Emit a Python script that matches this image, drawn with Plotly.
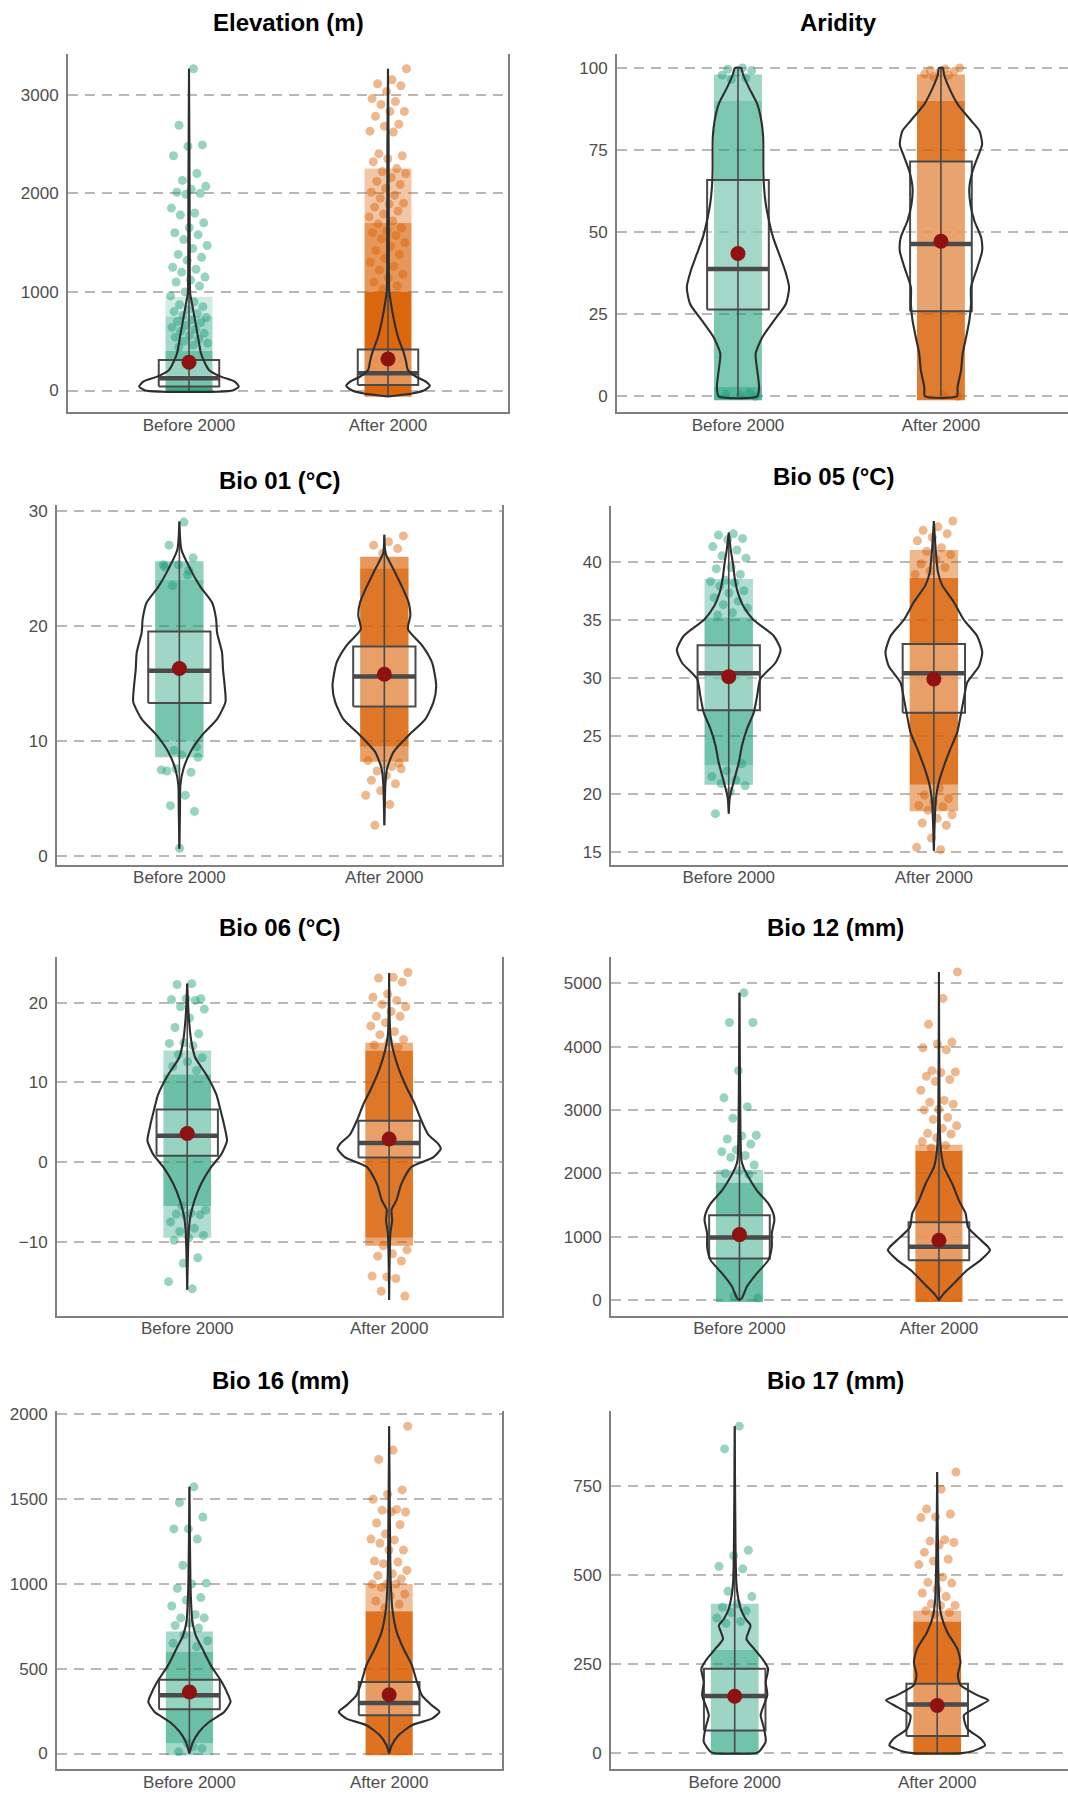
import plotly.graph_objects as go

# ---------------- data ----------------
CATEGORIES = ["Before 2000", "After 2000"]
TITLES = ["Elevation (m)", "Aridity", "Bio 01 (°C)", "Bio 05 (°C)",
          "Bio 06 (°C)", "Bio 12 (mm)", "Bio 16 (mm)", "Bio 17 (mm)"]
Y_TICKS = [[0, 1000, 2000, 3000], [0, 25, 50, 75, 100], [0, 10, 20, 30],
           [15, 20, 25, 30, 35, 40], [-10, 0, 10, 20],
           [0, 1000, 2000, 3000, 4000, 5000], [0, 500, 1000, 1500, 2000],
           [0, 250, 500, 750]]

# box stats: [min, q1, median, q3, max]; mean; violin profile (value, half-width);
# dense point cloud: band edges + density per band; sparse individual points
ELEV_B_BOX = [-12, 40, 125, 310, 3263]; ELEV_B_MEAN = 286
ELEV_A_BOX = [-60, 57, 175, 417, 3263]; ELEV_A_MEAN = 320
ELEV_B_VY = [-12, 0, 40, 90, 141, 209, 300, 377, 545, 714, 882, 983, 1200, 2000, 3263]
ELEV_B_VW = [0.14, 0.22, 0.25, 0.23, 0.16, 0.10, 0.075, 0.06, 0.045, 0.03, 0.015, 0.006, 0.004, 0.003, 0]
ELEV_A_VY = [-60, -30, 0, 47, 90, 141, 209, 300, 377, 545, 714, 882, 1017, 1500, 2500, 3263]
ELEV_A_VW = [0.0, 0.12, 0.18, 0.21, 0.19, 0.14, 0.10, 0.09, 0.08, 0.05, 0.03, 0.015, 0.006, 0.004, 0.003, 0]
ELEV_B_EDGES = [-25, 150, 400, 750, 950]; ELEV_B_DENS = [0.85, 0.65, 0.4, 0.2]
ELEV_A_EDGES = [-60, 1000, 1700, 2250]; ELEV_A_DENS = [0.95, 0.65, 0.35]
ELEV_B_PTS = [3263, 2690, 2490, 2475, 2380, 2200, 2130, 2070, 2040, 2010, 2000, 1990, 1850, 1800,
              1780, 1700, 1650, 1600, 1580, 1530, 1470, 1440, 1380, 1350, 1320, 1250, 1230, 1200,
              1150, 1120, 1100, 1060, 1000, 960, 900, 870, 850, 820, 800, 780, 760, 740, 720, 700,
              690, 660, 640, 620, 600, 580, 560, 540, 520, 500, 480, 460, 440]
ELEV_A_PTS = [3263, 3150, 3110, 3090, 3030, 2960, 2930, 2900, 2830, 2830, 2780, 2700, 2680, 2630,
              2620, 2400, 2380, 2350, 2320, 2250, 2220, 2200, 2160, 2120, 2090, 2050, 2010, 1980,
              1950, 1900, 1890, 1860, 1820, 1790, 1760, 1720, 1690, 1650, 1620, 1600, 1570, 1540,
              1500, 1460, 1420, 1380, 1340, 1300, 1260, 1220, 1180, 1140, 1100, 1060, 1030]

ARID_B_BOX = [0, 26.4, 38.8, 65.9, 100]; ARID_B_MEAN = 43.5
ARID_A_BOX = [0, 25.9, 46.4, 71.5, 100]; ARID_A_MEAN = 47.2
ARID_B_VY = [0, 2.8, 7.9, 13, 18, 23.1, 28.1, 33.2, 38.3, 43.3, 48.4, 53.4, 58.5, 64, 69, 74, 79, 84, 89, 94, 98, 100]
ARID_B_VW = [0.095, 0.104, 0.095, 0.087, 0.12, 0.178, 0.236, 0.252, 0.232, 0.203, 0.173, 0.153, 0.137,
             0.128, 0.125, 0.125, 0.124, 0.115, 0.095, 0.054, 0.025, 0.015]
ARID_A_VY = [0, 2.8, 7.9, 13, 18, 23.1, 28.1, 33.2, 39.3, 44.3, 48.4, 53.4, 58.5, 63.6, 68.6, 72.7,
             76.7, 80.8, 84, 89, 94, 98, 100]
ARID_A_VW = [0.079, 0.082, 0.099, 0.107, 0.124, 0.14, 0.148, 0.148, 0.18, 0.203, 0.198, 0.165, 0.145,
             0.14, 0.156, 0.18, 0.203, 0.19, 0.148, 0.082, 0.04, 0.015, 0.01]
ARID_B_EDGES = [-1.2, 3, 90, 98]; ARID_B_DENS = [0.75, 0.58, 0.42]
ARID_A_EDGES = [-1.2, 90, 98]; ARID_A_DENS = [0.82, 0.55]
ARID_B_PTS = [100, 99.6, 99.2, 98.5, 97.8, 97, 96.5, 0, 0.3, 0.6, 1.0]
ARID_A_PTS = [100, 99.7, 99.3, 99, 98.6, 98.2, 97.8, 97.3, 0, 0.4]

BIO01_B_BOX = [0.66, 13.3, 16.1, 19.5, 29.05]; BIO01_B_MEAN = 16.3
BIO01_A_BOX = [2.7, 13.0, 15.6, 18.2, 27.9]; BIO01_A_MEAN = 15.8
BIO01_B_VY = [0.66, 4, 6.2, 7.6, 9.06, 10.5, 11.9, 13.4, 14.8, 16.2, 17.7, 19.4, 20.6, 22, 23.4, 24.9, 26.6, 29.05]
BIO01_B_VW = [0, 0.003, 0.005, 0.02, 0.054, 0.11, 0.184, 0.225, 0.221, 0.213, 0.208, 0.184, 0.179, 0.16,
              0.102, 0.054, 0.01, 0]
BIO01_A_VY = [2.7, 5, 6.2, 7.6, 9.06, 10.5, 11.9, 13.4, 14.8, 16.8, 18.3, 19.7, 20.9, 22, 23.4, 24.9, 26.3, 27.9]
BIO01_A_VW = [0, 0.003, 0.005, 0.013, 0.045, 0.119, 0.2, 0.24, 0.253, 0.233, 0.184, 0.115, 0.127, 0.119,
              0.086, 0.045, 0.006, 0]
BIO01_B_EDGES = [8.6, 10, 24, 25.6]; BIO01_B_DENS = [0.45, 0.6, 0.48]
BIO01_A_EDGES = [8.2, 9.5, 25.0, 26.0]; BIO01_A_DENS = [0.6, 0.85, 0.65]
BIO01_B_PTS = [29.0, 27.0, 25.9, 25.3, 25.3, 24.4, 23.5, 9.5, 8.8, 7.4, 7.3, 7.6, 7.5, 5.3, 4.4, 3.9,
               0.7, 25.1, 24.8, 9.2, 8.6]
BIO01_A_PTS = [27.8, 27.3, 27.0, 26.7, 26.3, 8.3, 7.8, 7.4, 7.6, 7.0, 6.6, 6.3, 5.7, 5.3, 4.5, 2.7, 8.1, 8.0]

BIO05_B_BOX = [18.3, 27.2, 30.4, 32.8, 42.5]; BIO05_B_MEAN = 30.1
BIO05_A_BOX = [15.1, 27.0, 30.4, 32.9, 43.5]; BIO05_A_MEAN = 29.9
BIO05_B_VY = [18.3, 19.5, 20.1, 21.3, 22.7, 24.2, 25.6, 27, 28.4, 29.9, 31.3, 32.4, 33.6, 35, 36.2, 37.3,
              38.5, 39.9, 41, 42.5]
BIO05_B_VW = [0, 0.004, 0.01, 0.028, 0.049, 0.065, 0.089, 0.122, 0.138, 0.154, 0.228, 0.253, 0.22, 0.12,
              0.07, 0.045, 0.03, 0.02, 0.01, 0]
BIO05_A_VY = [15.1, 17.5, 19.6, 21, 22.4, 23.9, 25.3, 26.7, 28.2, 29.6, 31, 32.2, 33.6, 35, 36.5, 38,
              39.1, 40.8, 43.5]
BIO05_A_VW = [0, 0.004, 0.01, 0.024, 0.049, 0.081, 0.114, 0.13, 0.146, 0.163, 0.22, 0.236, 0.211, 0.146,
              0.098, 0.04, 0.02, 0.01, 0]
BIO05_B_EDGES = [20.8, 22.5, 35.2, 38.5]; BIO05_B_DENS = [0.45, 0.62, 0.35]
BIO05_A_EDGES = [18.5, 20.8, 38.6, 41.0]; BIO05_A_DENS = [0.5, 0.85, 0.45]
BIO05_B_PTS = [42.4, 42.3, 42.0, 41.9, 41.3, 41.0, 40.5, 40.3, 39.5, 39.4, 38.9, 38.4, 38.3, 38.2, 37.9,
               37.5, 37.3, 36.9, 36.6, 36.3, 36.0, 35.6, 35.4, 22.6, 22.0, 21.5, 21.2, 20.9, 20.7,
               20.2, 18.3]
BIO05_A_PTS = [43.5, 43.0, 42.7, 42.4, 42.1, 41.8, 41.2, 40.9, 40.6, 40.2, 39.8, 39.5, 39.2, 38.9, 20.5,
               19.9, 19.6, 19.3, 19.0, 18.9, 18.6, 18.2, 17.9, 17.5, 17.3, 16.2, 15.4, 15.2]

BIO06_B_BOX = [-16, 0.8, 3.3, 6.6, 22.4]; BIO06_B_MEAN = 3.6
BIO06_A_BOX = [-17.3, 0.6, 2.4, 5.2, 23.75]; BIO06_A_MEAN = 2.9
BIO06_B_VY = [-16, -9, -6.9, -4.8, -2.7, -0.6, 1, 2.7, 4.4, 6.5, 8.5, 11, 13.1, 15.2, 18.1, 22.4]
BIO06_B_VW = [0, 0.007, 0.015, 0.036, 0.069, 0.119, 0.169, 0.197, 0.185, 0.165, 0.144, 0.094, 0.04,
              0.02, 0.008, 0]
BIO06_A_VY = [-17.3, -9, -7.3, -6, -4.8, -2.7, -0.6, 0.6, 1.7, 2.3, 3.5, 5.2, 7.3, 9.4, 11.9, 14, 16, 23.75]
BIO06_A_VW = [0, 0.006, 0.015, 0.012, 0.036, 0.061, 0.11, 0.218, 0.256, 0.243, 0.193, 0.16, 0.127,
              0.086, 0.045, 0.02, 0.006, 0]
BIO06_B_EDGES = [-9.5, -5.5, 11, 14]; BIO06_B_DENS = [0.35, 0.65, 0.35]
BIO06_A_EDGES = [-10.5, -9.5, 14, 15]; BIO06_A_DENS = [0.55, 0.85, 0.5]
BIO06_B_PTS = [22.4, 22.3, 20.5, 20.5, 20.4, 20.3, 19.5, 19.2, 18.1, 16.9, 16.1, 15.0, 14.9, 14.6, 13.5,
               13.1, 12.6, 12.0, 11.5, -5.5, -6.0, -6.4, -6.5, -6.6, -6.7, -7.5, -8.3, -8.7, -9.2,
               -9.5, -9.8, -12.0, -12.7, -15.0, -15.9]
BIO06_A_PTS = [23.8, 23.2, 23.1, 22.6, 21.1, 20.7, 20.3, 19.8, 19.5, 18.9, 18.3, 18.3, 17.5, 17.1, 16.4,
               16.0, 15.4, 15.1, 14.7, 14.4, -10.5, -11.0, -11.5, -11.8, -12.4, -14.4, -14.3, -14.6,
               -16.2, -16.8]

BIO12_B_BOX = [0, 655, 985, 1336, 4848]; BIO12_B_MEAN = 1032
BIO12_A_BOX = [0, 629, 839, 1226, 5178]; BIO12_A_MEAN = 943
BIO12_B_VY = [0, 26, 210, 419, 629, 839, 1048, 1258, 1363, 1520, 1730, 1940, 2096, 2200, 2620, 4848]
BIO12_B_VW = [0, 0.012, 0.037, 0.087, 0.145, 0.162, 0.162, 0.175, 0.17, 0.145, 0.087, 0.045, 0.02,
              0.01, 0.005, 0]
BIO12_A_VY = [0, 105, 262, 472, 629, 786, 839, 996, 1153, 1363, 1572, 1834, 2096, 2306, 2620, 5178]
BIO12_A_VW = [0, 0.025, 0.075, 0.142, 0.209, 0.256, 0.246, 0.192, 0.145, 0.134, 0.1, 0.067, 0.025,
              0.012, 0.005, 0]
BIO12_B_EDGES = [-30, 1850, 2050]; BIO12_B_DENS = [0.65, 0.35]
BIO12_A_EDGES = [-30, 2350, 2450]; BIO12_A_DENS = [0.88, 0.45]
BIO12_B_PTS = [4848, 4380, 4380, 3620, 3190, 3050, 2870, 2600, 2590, 2540, 2460, 2370, 2340, 2280,
               2250, 2130, 2040, 2000, 1980, 60, 30]
BIO12_A_PTS = [5178, 4760, 4350, 4070, 4040, 3980, 3950, 3620, 3600, 3590, 3530, 3480, 3450, 3310,
               3150, 3120, 3090, 3010, 3000, 2880, 2850, 2750, 2710, 2630, 2620, 2560, 2500, 2440, 2400]

BIO16_B_BOX = [0, 261, 343, 435, 1573]; BIO16_B_MEAN = 363
BIO16_A_BOX = [0, 226, 298, 422, 1931]; BIO16_A_MEAN = 347
BIO16_B_VY = [0, 69, 127, 186, 245, 304, 343, 422, 520, 618, 696, 775, 853, 1010, 1573]
BIO16_B_VW = [0, 0.018, 0.048, 0.098, 0.174, 0.206, 0.195, 0.162, 0.107, 0.065, 0.032, 0.015, 0.01, 0.005, 0]
BIO16_A_VY = [0, 49, 108, 167, 206, 245, 284, 343, 422, 520, 618, 716, 853, 1010, 1206, 1931]
BIO16_A_VW = [0, 0.013, 0.047, 0.114, 0.214, 0.252, 0.214, 0.164, 0.139, 0.114, 0.072, 0.038, 0.016,
              0.008, 0.005, 0]
BIO16_B_EDGES = [-10, 60, 600, 720]; BIO16_B_DENS = [0.4, 0.65, 0.4]
BIO16_A_EDGES = [-10, 840, 1000]; BIO16_A_DENS = [0.88, 0.4]
BIO16_B_PTS = [1573, 1480, 1395, 1325, 1325, 1265, 1110, 1005, 1000, 975, 920, 905, 870, 820, 800, 800,
               770, 755, 740, 700, 665, 40, 10, 30, 60, 650, 630]
BIO16_A_PTS = [1931, 1790, 1735, 1555, 1530, 1500, 1440, 1435, 1425, 1425, 1360, 1350, 1295, 1265, 1260,
               1240, 1200, 1200, 1135, 1130, 1120, 1080, 1060, 1050, 1030, 1000, 1000, 1000, 980, 940,
               930, 900, 880, 860]

BIO17_B_BOX = [0, 64, 161, 237, 919]; BIO17_B_MEAN = 160
BIO17_A_BOX = [0, 48, 137, 195, 790]; BIO17_A_MEAN = 134
BIO17_B_VY = [0, 4, 32, 69, 106, 125, 163, 200, 237, 265, 293, 321, 359, 377, 405, 443, 480, 573, 919]
BIO17_B_VW = [0.1, 0.12, 0.153, 0.145, 0.128, 0.137, 0.161, 0.153, 0.165, 0.137, 0.096, 0.058, 0.078,
              0.054, 0.03, 0.015, 0.008, 0.004, 0]
BIO17_A_VY = [0, 4, 22, 41, 69, 106, 130, 149, 163, 191, 219, 256, 293, 340, 387, 433, 527, 790]
BIO17_A_VW = [0.12, 0.165, 0.236, 0.214, 0.148, 0.132, 0.198, 0.253, 0.198, 0.115, 0.102, 0.115, 0.1,
              0.05, 0.02, 0.01, 0.005, 0]
BIO17_B_EDGES = [-5, 290, 420]; BIO17_B_DENS = [0.62, 0.4]
BIO17_A_EDGES = [-5, 370, 400]; BIO17_A_DENS = [0.88, 0.45]
BIO17_B_PTS = [919, 855, 570, 555, 525, 518, 455, 440, 420, 410, 400, 395, 380, 370, 365]
BIO17_A_PTS = [790, 742, 686, 672, 664, 662, 600, 596, 592, 585, 565, 545, 540, 530, 495, 480, 478,
               460, 450, 440, 420, 415, 415, 400, 395, 390]

# ---------------- layout (pixel geometry and styles) ----------------
W, H = 1068, 1799
PANEL_BOX = [(68, 508, 49, 409), (617, 1068, 49, 409), (57, 502, 502, 863), (611, 1068, 503, 863),
             (57, 502, 956, 1316), (611, 1068, 956, 1316), (57, 502, 1411, 1771), (611, 1068, 1411, 1771)]
Y_RANGE = [[-222, 3414], [-4.9, 104.3], [-0.72, 30.48], [13.91, 44.79], [-19.29, 25.71],
           [-251, 5409], [-92, 2023.5], [-44.8, 963]]
X_RANGE = [[0.392, 2.603], [0.404, 2.626], [0.403, 2.574], [0.426, 2.654], [0.355, 2.559],
           [0.356, 2.647], [0.337, 2.565], [0.389, 2.646]]
TITLE_POS = [(288, 18), (838, 18), (280, 477), (834, 473), (280, 926), (835, 926), (280, 1381), (835, 1381)]

GREEN = (27, 158, 119)
ORANGE = (217, 95, 2)
FONT = "Liberation Sans, Arial, sans-serif"

groups = {
    0: [(ELEV_B_BOX, ELEV_B_MEAN, ELEV_B_VY, ELEV_B_VW, ELEV_B_EDGES, ELEV_B_DENS, ELEV_B_PTS),
        (ELEV_A_BOX, ELEV_A_MEAN, ELEV_A_VY, ELEV_A_VW, ELEV_A_EDGES, ELEV_A_DENS, ELEV_A_PTS)],
    1: [(ARID_B_BOX, ARID_B_MEAN, ARID_B_VY, ARID_B_VW, ARID_B_EDGES, ARID_B_DENS, ARID_B_PTS),
        (ARID_A_BOX, ARID_A_MEAN, ARID_A_VY, ARID_A_VW, ARID_A_EDGES, ARID_A_DENS, ARID_A_PTS)],
    2: [(BIO01_B_BOX, BIO01_B_MEAN, BIO01_B_VY, BIO01_B_VW, BIO01_B_EDGES, BIO01_B_DENS, BIO01_B_PTS),
        (BIO01_A_BOX, BIO01_A_MEAN, BIO01_A_VY, BIO01_A_VW, BIO01_A_EDGES, BIO01_A_DENS, BIO01_A_PTS)],
    3: [(BIO05_B_BOX, BIO05_B_MEAN, BIO05_B_VY, BIO05_B_VW, BIO05_B_EDGES, BIO05_B_DENS, BIO05_B_PTS),
        (BIO05_A_BOX, BIO05_A_MEAN, BIO05_A_VY, BIO05_A_VW, BIO05_A_EDGES, BIO05_A_DENS, BIO05_A_PTS)],
    4: [(BIO06_B_BOX, BIO06_B_MEAN, BIO06_B_VY, BIO06_B_VW, BIO06_B_EDGES, BIO06_B_DENS, BIO06_B_PTS),
        (BIO06_A_BOX, BIO06_A_MEAN, BIO06_A_VY, BIO06_A_VW, BIO06_A_EDGES, BIO06_A_DENS, BIO06_A_PTS)],
    5: [(BIO12_B_BOX, BIO12_B_MEAN, BIO12_B_VY, BIO12_B_VW, BIO12_B_EDGES, BIO12_B_DENS, BIO12_B_PTS),
        (BIO12_A_BOX, BIO12_A_MEAN, BIO12_A_VY, BIO12_A_VW, BIO12_A_EDGES, BIO12_A_DENS, BIO12_A_PTS)],
    6: [(BIO16_B_BOX, BIO16_B_MEAN, BIO16_B_VY, BIO16_B_VW, BIO16_B_EDGES, BIO16_B_DENS, BIO16_B_PTS),
        (BIO16_A_BOX, BIO16_A_MEAN, BIO16_A_VY, BIO16_A_VW, BIO16_A_EDGES, BIO16_A_DENS, BIO16_A_PTS)],
    7: [(BIO17_B_BOX, BIO17_B_MEAN, BIO17_B_VY, BIO17_B_VW, BIO17_B_EDGES, BIO17_B_DENS, BIO17_B_PTS),
        (BIO17_A_BOX, BIO17_A_MEAN, BIO17_A_VY, BIO17_A_VW, BIO17_A_EDGES, BIO17_A_DENS, BIO17_A_PTS)],
}

BAND_HW = 0.118     # half-width of jitter cloud (category units)
JIT = 0.095         # jitter half-width for point centres
BOX_HW = 0.152
GOLD = 0.6180339887

fig = go.Figure()


def rgba(c, a):
    return f"rgba({c[0]},{c[1]},{c[2]},{a})"


def sc(**kw):
    kw.setdefault("hoverinfo", "skip")
    kw.setdefault("showlegend", False)
    fig.add_trace(go.Scatter(**kw))


for p in range(8):
    xa = "x" if p == 0 else f"x{p + 1}"
    ya = "y" if p == 0 else f"y{p + 1}"
    for gi, (box, mean, vy, vw, edges, dens, pts) in enumerate(groups[p]):
        c = gi + 1
        col = GREEN if gi == 0 else ORANGE
        # dense point cloud, banded by density
        for k, d in enumerate(dens):
            lo, hi = edges[k], edges[k + 1]
            sc(x=[c - BAND_HW, c + BAND_HW, c + BAND_HW, c - BAND_HW, c - BAND_HW],
               y=[lo, lo, hi, hi, lo], mode="lines", fill="toself",
               fillcolor=rgba(col, d), line=dict(width=0), xaxis=xa, yaxis=ya)
        # jittered sparse points (deterministic low-discrepancy jitter)
        xs = [c + JIT * (2 * (((i + 1) * GOLD + 0.37 * gi) % 1.0) - 1) for i in range(len(pts))]
        sc(x=xs, y=pts, mode="markers",
           marker=dict(size=9, color=rgba(col, 0.45), line=dict(width=0)), xaxis=xa, yaxis=ya)
        # box
        mn, q1, med, q3, mx = box
        sc(x=[c - BOX_HW, c + BOX_HW, c + BOX_HW, c - BOX_HW, c - BOX_HW],
           y=[q1, q1, q3, q3, q1], mode="lines", fill="toself",
           fillcolor="rgba(255,255,255,0.3)", line=dict(color="#4a4a4a", width=2), xaxis=xa, yaxis=ya)
        # range line
        sc(x=[c, c], y=[mn, mx], mode="lines", line=dict(color="#4a4a4a", width=1.6), xaxis=xa, yaxis=ya)
        # median
        sc(x=[c - BOX_HW, c + BOX_HW], y=[med, med], mode="lines",
           line=dict(color="#4a4a4a", width=4.5), xaxis=xa, yaxis=ya)
        # violin outline
        vx = [c + w for w in vw] + [c - w for w in reversed(vw)] + [c + vw[0]]
        vyy = list(vy) + list(reversed(vy)) + [vy[0]]
        sc(x=vx, y=vyy, mode="lines", line=dict(color="#2e2e2e", width=2.1, shape="spline", smoothing=0.6),
           xaxis=xa, yaxis=ya)
        # mean
        sc(x=[c], y=[mean], mode="markers", marker=dict(size=15, color="#8e1212"), xaxis=xa, yaxis=ya)

layout = dict(width=W, height=H, margin=dict(l=0, r=0, t=0, b=0), plot_bgcolor="white",
              paper_bgcolor="white", showlegend=False, font=dict(family=FONT))
annotations = []
for p in range(8):
    L, R, T, B = PANEL_BOX[p]
    xk = "xaxis" if p == 0 else f"xaxis{p + 1}"
    yk = "yaxis" if p == 0 else f"yaxis{p + 1}"
    xa = "x" if p == 0 else f"x{p + 1}"
    ya = "y" if p == 0 else f"y{p + 1}"
    left_col = (p % 2 == 0)
    layout[xk] = dict(domain=[L / W, min(R / W, 1.0)], range=X_RANGE[p], anchor=ya,
                      tickvals=[1, 2], ticktext=CATEGORIES, showgrid=False, zeroline=False,
                      showline=True, linecolor="#808080", linewidth=2, ticks="",
                      ticklabelstandoff=-4, tickfont=dict(size=17, color="#4d4d4d", family=FONT),
                      fixedrange=True)
    layout[yk] = dict(domain=[1 - B / H, 1 - T / H], range=Y_RANGE[p], anchor=xa,
                      tickvals=Y_TICKS[p],
                      ticktext=[str(v).replace("-", "\u2212") for v in Y_TICKS[p]],
                      showgrid=True, gridcolor="#bdb7b2", gridwidth=1.8, griddash="10px,7px",
                      zeroline=False, showline=True, mirror=left_col, linecolor="#808080",
                      linewidth=2, ticks="", ticklabelstandoff=4,
                      tickfont=dict(size=17, color="#4d4d4d", family=FONT), fixedrange=True)
    cx, cy = TITLE_POS[p]
    annotations.append(dict(text=f"<b>{TITLES[p]}</b>", x=cx / W, y=1 - cy / H, xref="paper",
                            yref="paper", xanchor="center", yanchor="middle", showarrow=False,
                            font=dict(size=24, color="black", family=FONT)))
layout["annotations"] = annotations
fig.update_layout(**layout)
fig.write_html("out.html")
